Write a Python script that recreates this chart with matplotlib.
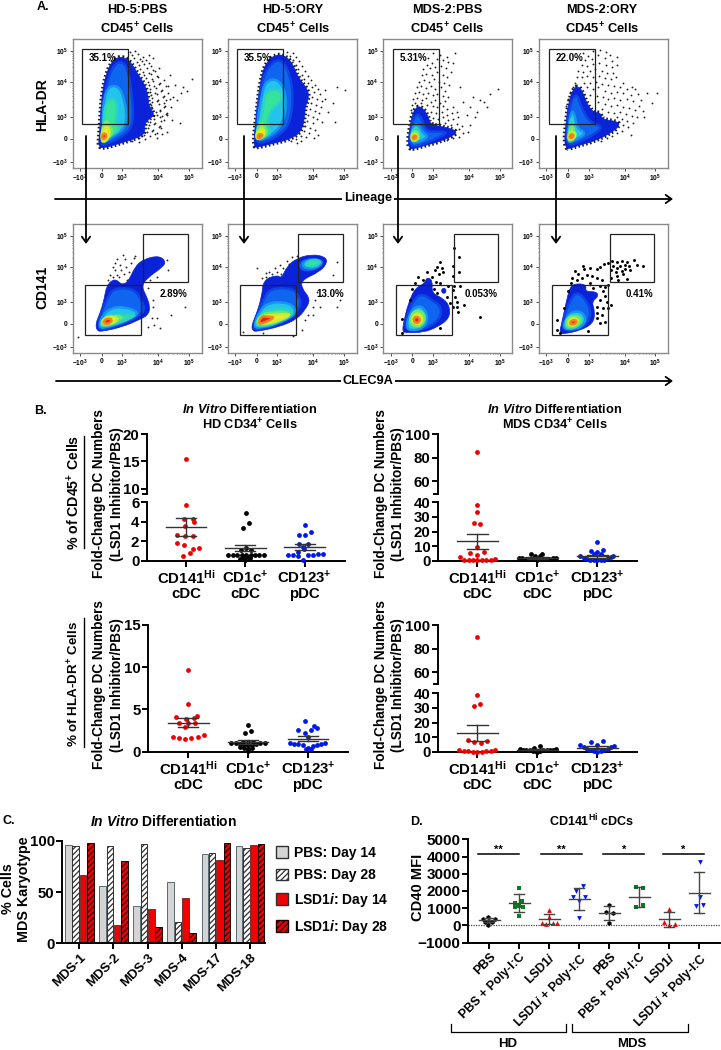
import numpy as np
import matplotlib
matplotlib.use("Agg")
import matplotlib.pyplot as plt
from matplotlib.patches import Rectangle, Patch, PathPatch
from matplotlib.path import Path
from matplotlib.colors import to_rgb

plt.rcParams['font.family'] = ['Liberation Sans', 'DejaVu Sans']
plt.rcParams['font.weight'] = 'bold'
plt.rcParams['mathtext.fontset'] = 'custom'
plt.rcParams['mathtext.rm'] = 'Liberation Sans:bold'
plt.rcParams['mathtext.bf'] = 'Liberation Sans:bold'
plt.rcParams['mathtext.it'] = 'Liberation Sans:italic:bold'
plt.rcParams['mathtext.bfit'] = 'Liberation Sans:italic:bold'
plt.rcParams['hatch.linewidth'] = 0.9

W, H = 721, 1050
fig = plt.figure(figsize=(7.21, 10.5), dpi=100)

# ---------- panel A: outlines of the density plots, channel units per plot
LEVEL_COLORS = ['#0a22d8', '#1065f0', '#22c4ee', '#35e39a', '#a8ee38', '#f2e92c', '#ee1c14']

P1_OUT = [(297,440),(296,425),(300,380),(302,330),(308,270),(318,225),(332,190),(350,172),(375,172),(395,190),(415,225),(435,255),(445,290),(445,315),(465,345),(445,358),(433,375),(435,400),(410,415),(360,430),(310,445)]
P1_LV = [[(305,435),(303,380),(310,300),(325,230),(345,190),(370,185),(385,215),(395,280),(400,340),(395,385),(360,415),(310,435)],
         [(308,425),(308,350),(312,290),(330,255),(360,262),(372,300),(380,340),(375,385),(345,405),(315,425)],
         [(310,418),(310,350),(320,300),(345,295),(352,325),(345,370),(360,390),(335,405),(315,420)],
         [(307,425),(306,385),(318,360),(330,375),(340,395),(328,410),(315,425)],
         [(305,425),(304,395),(318,378),(330,392),(326,410),(315,425)],
         [(306,416),(307,403),(316,400),(320,410),(312,418)]]
P2_OUT = [(763,440),(762,410),(768,360),(775,290),(785,225),(800,185),(825,165),(850,165),(875,185),(895,235),(925,270),(925,300),(915,320),(915,345),(905,395),(870,418),(820,430),(770,443)]
P2_LV = [[(768,430),(768,370),(778,280),(795,215),(825,180),(850,185),(870,225),(880,290),(870,370),(840,405),(800,425)],
         [(772,425),(772,370),(782,300),(795,245),(830,235),(855,270),(860,330),(840,385),(805,410)],
         [(772,418),(772,380),(790,340),(790,290),(815,265),(845,275),(845,305),(810,330),(800,380),(815,395),(795,410)],
         [(771,420),(770,390),(785,365),(798,385),(800,400),(790,412)],
         [(770,420),(768,400),(785,385),(795,395),(790,410)],
         [(773,414),(775,403),(785,402),(787,408),(778,416)]]
P3_OUT = [(148,445),(144,425),(150,380),(158,340),(172,318),(190,325),(205,350),(212,375),(250,380),(290,392),(285,405),(240,425),(200,435),(160,447)]
P3_LV = [[(150,438),(152,385),(165,345),(180,345),(190,370),(200,395),(240,395),(265,398),(220,420),(170,440)],
         [(153,430),(156,385),(168,370),(178,380),(190,400),(205,410),(180,425)],
         [(155,425),(155,395),(170,380),(180,405),(175,420)],
         [(155,422),(155,400),(168,392),(178,408),(170,422)],
         [(155,420),(155,405),(168,400),(175,412),(165,422)],
         [(158,416),(160,407),(168,407),(170,413),(163,418)]]
P4_OUT = [(620,445),(613,425),(618,370),(625,310),(640,265),(655,258),(668,275),(680,310),(700,338),(722,338),(725,358),(775,365),(778,378),(755,398),(700,425),(660,435),(625,447)]
P4_LV = [[(620,435),(622,370),(632,305),(650,280),(660,310),(675,345),(695,370),(730,380),(700,405),(650,430)],
         [(622,430),(626,375),(635,330),(645,345),(650,385),(680,400),(645,420)],
         [(625,425),(628,385),(636,345),(642,390),(650,405),(640,420)],
         [(625,422),(627,395),(637,375),(645,400),(640,418)],
         [(625,420),(628,400),(640,395),(648,405),(638,418)],
         [(628,413),(631,403),(640,403),(640,410),(633,415)]]
P5_OUT = [(290,392),(287,370),(300,340),(312,300),(320,255),(345,235),(365,255),(385,245),(405,200),(430,178),(475,167),(497,183),(490,200),(440,235),(425,260),(440,290),(450,320),(445,345),(420,358),(370,380),(305,395)]
P5_LV = [[(295,385),(300,345),(322,295),(340,265),(400,265),(425,300),(435,330),(415,350),(360,375),(310,390)],
         [(297,380),(305,350),(330,325),(370,320),(415,335),(405,350),(360,370),(310,385)],
         [(300,378),(310,355),(335,345),(385,345),(410,345),(360,368),(320,378)],
         [(303,374),(312,353),(338,348),(370,350),(345,368),(320,376)],
         [(305,370),(315,352),(340,350),(355,357),(335,372)],
         [(310,365),(320,355),(337,358),(330,370),(315,372)]]
P6_OUT = [(757,392),(755,375),(770,340),(785,290),(790,240),(830,225),(845,235),(860,200),(890,175),(935,163),(975,170),(982,188),(960,215),(905,240),(905,265),(932,298),(915,330),(890,358),(840,380),(770,395)]
P6_LV = [[(760,385),(770,345),(790,300),(810,265),(880,265),(895,290),(905,310),(880,350),(830,375),(775,390)],
         [(762,380),(775,340),(800,310),(850,305),(885,320),(885,345),(830,372),(775,385)],
         [(765,375),(780,345),(800,330),(860,325),(885,340),(835,368),(785,380)],
         [(768,372),(782,346),(810,337),(875,338),(850,358),(800,375)],
         [(772,368),(785,347),(820,345),(875,342),(850,357),(800,372)],
         [(775,368),(785,348),(800,350),(825,352),(800,365),(780,372)]]
P6_LOBE = [[(895,185),(940,172),(975,185),(950,210),(905,215)],
           [(905,190),(940,176),(970,186),(948,205),(915,205)],
           [(915,190),(940,178),(965,185),(945,200),(920,198)]]
P7_OUT = [(128,395),(130,370),(145,310),(165,265),(195,250),(200,232),(218,240),(215,280),(250,295),(270,320),(268,355),(235,380),(190,398),(135,398)]
P7_LV = [[(135,390),(140,350),(160,300),(185,280),(215,300),(245,320),(240,360),(190,390)],
         [(140,385),(145,350),(165,320),(190,320),(205,355),(190,385),(155,392)],
         [(148,378),(152,345),(172,328),(195,340),(195,370),(170,385)],
         [(150,370),(155,340),(175,330),(195,345),(190,370),(170,382)],
         [(155,365),(160,345),(178,340),(190,358),(178,375)],
         [(160,362),(165,350),(178,352),(180,365),(168,370)]]
P7_SPOT = [(245,265),(258,265),(258,280),(245,280)]
P8_OUT = [(598,400),(605,370),(620,300),(630,260),(650,250),(680,255),(675,275),(710,275),(715,290),(695,305),(705,335),(700,370),(660,392),(610,402)]
P8_LV = [[(605,395),(612,350),(630,300),(650,275),(680,300),(695,345),(670,385)],
         [(610,390),(615,360),(635,335),(665,335),(680,360),(660,385)],
         [(616,385),(618,358),(638,342),(662,345),(668,365),(645,385)],
         [(620,380),(622,355),(640,348),(660,352),(662,368),(640,382)],
         [(625,375),(628,358),(645,353),(655,365),(640,378)],
         [(630,372),(633,362),(648,360),(650,368),(640,374)]]

P1_SPECK = [(390,156),(404,152),(396,166),(414,162),(430,170),(402,175),(419,178),(438,181),(411,186),(426,183),(446,188),(416,196),(433,193),(453,199),(421,207),(441,203),(458,210),(476,205),(428,215),(446,218),(466,213),(431,226),(452,222),(470,229),(437,235),(456,238),(473,232),(491,240),(443,246),(460,243),(481,249),(447,255),(463,259),(478,252),(499,258),(451,266),(468,263),(485,270),(450,275),(466,279),(483,272),(503,279),(453,286),(471,283),(491,289),(456,295),(473,299),(488,292),(509,298),(455,306),(470,303),(493,309),(453,316),(476,312),(496,319),(456,325),(479,329),(491,322),(469,336),(481,332),(501,339),(471,345),(486,349),(499,342),(461,356),(479,352),(493,359),(449,365),(466,369),(483,362),(446,376),(463,372),(479,379),(443,385),(459,389),(476,382),(441,396),(456,392),(471,399),(431,405),(451,409),(466,402),(416,414),(436,418),(396,423),(416,426),
            (575,238),(560,272),(542,280),(530,300),(510,226),(505,258),(520,290),(500,345),(512,320),(540,370),(497,300),(482,385),(487,402),(470,415),(550,262),(525,255),(500,395),(515,360),(460,175),(448,165)]
P2_SPECK = [(862,156),(878,160),(870,168),(888,172),(880,180),(898,184),(888,195),(906,198),(895,208),(915,212),(905,224),(925,228),(912,238),(934,240),(925,250),(945,254),(935,262),(955,268),(942,276),(960,282),(935,292),(950,298),(965,304),(932,310),(948,316),(962,322),(930,328),(945,334),(958,340),(925,346),(940,352),(952,358),(922,364),(938,370),(916,378),(930,384),(945,390),(912,394),(926,400),(902,408),(918,412),(888,418),(904,422),(872,424),(890,428),
            (1035,270),(1010,262),(1000,310),(975,298),(985,335),(965,365),(1005,365),(975,270),(955,405),(942,415)]
P3_SPECK = [(205,175),(220,160),(240,165),(262,170),(285,160),(280,190),(265,185),(250,180),(232,178),(215,190),(200,195),(190,208),(210,205),(225,200),(242,198),(258,205),(272,215),(185,225),(198,222),(215,225),(232,215),(248,225),(262,232),(178,245),(192,240),(207,245),(222,238),(238,245),(252,250),(268,255),(172,262),(184,258),(198,265),(212,258),(226,268),(242,262),(256,272),(165,280),(178,275),(190,282),(205,278),(218,285),(232,282),(248,288),(265,292),(160,298),(172,295),(186,300),(198,295),(212,305),(225,300),(240,308),(255,302),(155,315),(166,310),(182,308),(200,315),(218,318),(232,322),(248,318),(262,328),(278,320),(152,330),(212,335),(228,340),(245,335),(260,345),(275,340),(290,335),(218,355),(235,358),(250,352),(265,360),(280,358),(295,352),(225,372),(240,372),(255,368),(272,375),(290,372),(305,378),(298,388),(308,398),(296,410),(280,415),(262,420),
            (415,268),(390,282),(372,305),(380,322),(350,335),(330,320),(345,350),(320,345),(310,305),(300,262),(330,375),(360,300),(340,290),(325,395)]
P4_SPECK = [(670,158),(685,168),(700,152),(720,150),(738,155),(750,165),(770,172),(715,165),(695,178),(675,180),(735,175),(755,182),(665,195),(680,198),(700,192),(718,190),(738,195),(755,200),(772,195),(655,212),(670,215),(690,212),(705,208),(725,212),(742,218),(760,218),(650,230),(665,232),(682,228),(700,232),(718,228),(735,235),(752,238),(768,232),(790,248),(815,262),(645,248),(672,248),(690,248),(708,245),(725,252),(745,255),(762,258),(780,262),(800,268),(825,268),(842,300),(640,262),(680,262),(698,268),(715,262),(735,272),(752,278),(770,275),(790,280),(812,285),(835,282),(860,278),(890,280),(630,278),(690,285),(710,288),(728,292),(745,298),(762,295),(780,300),(800,298),(820,302),(838,318),(715,305),(735,312),(752,318),(770,315),(790,320),(808,325),(825,330),(848,332),(725,328),(745,335),(762,338),(780,335),(798,342),(815,348),(830,352),(770,352),(785,358),(802,362),(818,370),(790,375),(805,380),(785,392),(772,398),(755,408),(740,415),(722,422),(812,405),(625,296),(618,318),(852,352),(875,310)]
P5_SPECK = [(330,225),(345,210),(360,195),(375,178),(368,165),(352,178),(338,200),(325,240),(350,225),(362,210),(378,200),(392,190),(402,175),(345,190),(372,222),(388,215),(398,230),(382,240),(358,232),(340,232),(405,168),
            (555,322),(512,345),(470,355),(455,355),(480,385),(235,410),(460,322),(500,180),(505,210),(470,230),(450,240),(445,265),(458,300),(462,375),(445,382)]
P6_SPECK = [(798,230),(808,215),(825,205),(840,195),(860,182),(875,172),(815,222),(832,215),(850,205),(842,222),(798,218),(785,235),(868,192),(890,168),
            (1010,185),(1010,320),(940,345),(925,345),(730,395),(770,205),(1000,225),(1020,300),(960,320),(945,300),(938,320),(950,275),(915,360),(905,390),(880,408),(790,400)]
P7_BIG = [(283,143),(298,172),(280,197),(296,215),(280,228),(240,185),(232,200),(245,205),(250,215),(238,222),(225,210),(200,215),(215,230),(175,232),(190,240),(165,250),(228,245),(240,250),(265,258),(282,258),(300,258),(278,270),(285,290),(290,305),(270,310),(280,322),(292,320),(293,337),(313,316),(360,350),(125,358),(240,385),(125,398),(155,268),(150,300),(222,268),(232,278),(262,290)]
P8_BIG = [(670,197),(672,208),(645,212),(655,222),(690,205),(712,208),(720,200),(733,192),(745,190),(755,183),(770,187),(785,183),(800,185),(823,180),(830,195),(848,197),(758,198),(770,205),(780,198),(795,195),(808,198),(752,210),(768,215),(785,212),(795,208),(810,210),(790,222),(770,228),(800,238),(752,235),(775,240),(635,235),(650,240),(665,235),(680,225),(695,228),(712,235),(725,240),(632,250),(690,250),(720,258),(735,262),(745,255),(728,272),(735,288),(720,300),(742,305),(752,315),(712,320),(728,325),(745,325),(710,340),(725,345),(712,355),(735,365),(720,368),(685,392),(590,360),(590,390),(600,400),(612,325),(625,272),(700,265)]

# gates in the same channel units
TOP_GATE_LEFT, TOP_GATE_TOP, TOP_GATE_W, TOP_GATE_H = 29, 30, 138, 225
LOW_GATE = (38, 181, 168, 151)
UP_GATE = (212, 29, 133, 145)

X_TICK_CH = [22, 87, 149, 257, 349]
Y_TICK_CH = [34, 129, 234, 299, 367]
X_TICK_LABELS = [r'$-10^3$', '0', r'$10^3$', r'$10^4$', r'$10^5$']
Y_TICK_LABELS = [r'$10^5$', r'$10^4$', r'$10^3$', '0', r'$-10^3$']

TOP_PCT = ['35.1%', '35.5%', '5.31%', '22.0%']
LOW_PCT = ['2.89%', '13.0%', '0.053%', '0.41%']
TOP_TITLES = ['HD-5:PBS', 'HD-5:ORY', 'MDS-2:PBS', 'MDS-2:ORY']

# ---------- panel B: swarm offsets and fold change values
B1_RED_X = [0,1,-5,20,24,-2,-27,-2,22,-27,-6,38,20,11,-9]
B1_RED = [15.4,5.7,4.25,4.28,3.94,3.56,2.64,2.53,2.53,1.85,1.61,1.34,1.2,.82,.51]
B1_BLK_X = [2,11,-8,2,-14,16,-51,-38,-24,-11,2,16,29,42,55,-16,-1,14,-8,9]
B1_BLK = [4.86,3.9,3.32,1.3,1.06,1.06,.58,.55,.55,.55,.55,.55,.55,.58,.62,.17,.07,.24,.34,.34]
B1_BLU_X = [2,20,-16,2,-16,10,-6,-3,-50,-35,-20,10,25,40,55,-6,-20]
B1_BLU = [3.7,2.95,2.6,2.6,1.7,1.67,1.44,1.2,.58,.55,.52,.55,.58,.65,.72,.1,.92]
B1_STATS = [(3.45,2.55,4.35),(1.28,.95,1.65),(1.4,1.1,1.7)]

B2_RED_X = [0,0,0,-9,9,0,-21,0,20,-52,-39,-26,-13,0,13,26,39,52]
B2_RED = [84.6,38.4,33.4,25.6,24.9,9.1,5.5,4.1,6.2,2.7,.5,.3,.3,.3,.3,.3,.5,1.1]
B2_BLK_X = [-20,15,7,-8,-55,-45,-35,-25,-15,-5,5,15,25,35,45,55,-1]
B2_BLK = [4.6,4.6,3.4,3.2,1.8,1.6,1.4,1.2,1.0,1.0,1.0,1.0,1.2,1.4,1.6,1.8,.2]
B2_BLU_X = [0,18,-20,0,-11,11,-51,47,-41,-31,-21,-11,0,11,21,31,39]
B2_BLU = [12.6,7.5,6.4,5.7,4.3,4.3,3.2,3.2,1.6,1.1,.7,.4,.2,.4,.7,1.6,2.3]
B2_STATS = [(13.5,8.1,18.6),(1.7,1.2,2.2),(3.0,2.0,4.0)]

B3_RED_X = [0,0,-37,27,-7,17,-27,0,20,-9,-45,-28,-9,9,28,47]
B3_RED = [9.67,5.68,4.1,4.22,3.9,3.95,3.43,3.43,3.43,2.96,1.74,1.66,1.5,1.66,1.74,2.0]
B3_BLK_X = [0,8,-10,-15,0,15,-50,-37,-25,-12,0,12,25,37,50,-25,-12,0,12,0]
B3_BLK = [3.2,2.45,2.2,1.2,1.2,1.2,1.07,1.0,.92,.8,.75,.8,.92,1.0,1.07,.6,.47,.35,.47,.1]
B3_BLU_X = [-10,17,27,-28,8,-10,0,-53,-41,-28,-16,40,52,27,15,0,-5,10]
B3_BLU = [3.67,3.04,2.8,2.53,2.53,2.2,1.74,1.0,.95,.87,.8,.95,1.0,.8,.67,.4,.28,.28]
B3_STATS = [(3.45,2.95,3.95),(1.15,.95,1.4),(1.55,1.25,1.85)]

B4_RED_X = [0,0,9,-9,-27,-9,28,10,-54,-41,-27,-14,0,13,26,39,53]
B4_RED = [89.9,38.9,32.7,31.5,7.8,6.6,7.5,5.7,.9,.45,.25,.1,.1,.1,.25,.45,1.1]
B4_BLK_X = [8,-11,-53,-43,-33,-23,-13,-3,7,17,27,37,47,55,0]
B4_BLK = [4.1,2.3,1.6,1.2,1,.9,.8,.8,.8,.9,1,1.2,1.4,1.6,.1]
B4_BLU_X = [18,-20,0,-51,49,-41,-31,-21,-11,0,11,21,31,39]
B4_BLU = [7.3,6.4,4.8,4.3,3.9,3,2,1.1,.5,.1,.5,1.1,2,3]
B4_STATS = [(12.8,7.1,18.0),(1.3,.9,1.7),(2.8,2.0,3.6)]

DC_COLORS = ['#f00000', 'black', '#0018f0']
DC_LABELS = [r'CD141$^{\mathrm{Hi}}$' + '\ncDC', 'CD1c$^{+}$\ncDC', 'CD123$^{+}$\npDC']

# ---------- panel C
C_PATIENTS = ['MDS-1', 'MDS-2', 'MDS-3', 'MDS-4', 'MDS-17', 'MDS-18']
C_PBS14 = [96, 56, 36, 60, 87, 95]
C_PBS28 = [95, 95, 97, 21, 88, 93]
C_LSD14 = [67, 18, 33, 44, 81, 96]
C_LSD28 = [98, 80, 16, 10, 98, 97]

# ---------- panel D
D_LABELS = ['PBS', 'PBS + Poly-I:C', r'LSD1$\mathit{i}$', r'LSD1$\mathit{i}$ + Poly-I:C'] * 2
D_X = [[-3,-18,17,0,-13,7,-3], [0,8,-12,0,-12,11,0], [0,0,-22,-9,11,23], [10,-9,-20,18,0,0],
       [0,-9,11,0], [-9,10,10,-10], [0,-17,18,0], [3,1,-9,11]]
D_VALS = [[504,349,349,271,213,174,19], [2190,1415,1318,1124,1047,1085,562], [910,465,116,78,155,155],
          [2287,2015,1667,1667,1434,407], [1160,775,700,155], [2248,2170,1163,1085], [930,213,78,19], [3700,1667,1124,1182]]
D_MEAN = [300, 1290, 390, 1540, 720, 1670, 350, 1900]
D_LOW = [180, 760, 100, 900, 300, 1100, -90, 700]
D_HIGH = [420, 1840, 680, 2180, 1140, 2260, 800, 3120]
D_COLORS = ['black', '#0d7a20', '#f00000', '#0018f0'] * 2
D_MARKERS = ['h', 's', '^', 'v'] * 2
D_SIG_X = [(-.37, .99), (1.72, 3.08), (3.8, 5.16), (5.78, 7.14)]
D_SIG_LABEL = ['**', '**', '*', '*']
D_SIG_Y = 4150


def ax_px(l, t, r, b):
    return fig.add_axes([l / W, 1 - b / H, (r - l) / W, (b - t) / H])


def txt(x, y, s, size=8, **kw):
    kw.setdefault('ha', 'center')
    kw.setdefault('va', 'center')
    fig.text(x / W, 1 - y / H, s, fontsize=size, fontweight='bold', **kw)


def mix(a, b):
    a, b = to_rgb(a), to_rgb(b)
    return tuple((p + q) / 2 for p, q in zip(a, b))


def round_path(pts):
    # closed quadratic path, the read points act as control points
    pts = np.array(pts, dtype=float)
    mids = (pts + np.roll(pts, -1, axis=0)) / 2
    verts = [mids[-1]]
    codes = [Path.MOVETO]
    for p, m in zip(pts, mids):
        verts += [p, m]
        codes += [Path.CURVE3, Path.CURVE3]
    return Path(verts, codes)


def blob(ax, outer, levels, start=0, fringe=False):
    colors = LEVEL_COLORS[start:]
    if fringe:
        # dotted edge gives the dense fuzz of events at the rim of the density
        ax.add_patch(PathPatch(round_path(outer), fc='none', ec='#1a1a1a', lw=3.2, ls=(0, (0.35, 0.55)), zorder=2.5))
    ax.add_patch(PathPatch(round_path(outer), fc=colors[0], ec=colors[0], lw=0.5, zorder=3))
    for i, poly in enumerate(levels):
        c = colors[i + 1]
        ax.add_patch(PathPatch(round_path(poly), fc=c, ec=mix(c, colors[i]), lw=1.8, zorder=3.1 + i * 0.1))


def flow_panel(l, t, x0, y0, outer, levels, specks, big, top, pct, pct_xy):
    ax = ax_px(l, t, l + 129, t + 129)
    ax.set_xlim(x0, x0 + 387)
    ax.set_ylim(y0 + 387, y0)
    for s in ax.spines.values():
        s.set_color('#8a8a8a')
        s.set_linewidth(1.0)
    if specks:
        sx, sy = zip(*specks)
        ax.scatter(sx, sy, s=1.8, c='#222222', linewidths=0, zorder=2)
    if big:
        bx, by = zip(*big)
        ax.scatter(bx, by, s=4.5, c='black', linewidths=0, zorder=6)
    blob(ax, outer, levels, fringe=top)
    ax.set_xticks([x0 + c for c in X_TICK_CH])
    ax.set_xticklabels(X_TICK_LABELS, fontsize=4.8)
    ax.set_yticks([y0 + c for c in Y_TICK_CH])
    ax.set_yticklabels(Y_TICK_LABELS, fontsize=4.8)
    ax.tick_params(length=2, width=0.6, pad=1.5, color='#333333')
    minors_x, minors_y = [], []
    for a, b in zip(X_TICK_CH[2:], X_TICK_CH[3:]):
        minors_x += [x0 + a + (b - a) * np.log10(k) for k in range(2, 10)]
    for a, b in zip(Y_TICK_CH[:2], Y_TICK_CH[1:3]):
        minors_y += [y0 + b - (b - a) * np.log10(k) for k in range(2, 10)]
    ax.set_xticks(minors_x, minor=True)
    ax.set_yticks(minors_y, minor=True)
    ax.tick_params(which='minor', length=1, width=0.4, color='#333333')
    gate_kw = dict(fc='none', ec='#222222', lw=0.9, zorder=7)
    if top:
        ax.add_patch(Rectangle((x0 + TOP_GATE_LEFT, y0 + TOP_GATE_TOP), TOP_GATE_W, TOP_GATE_H, **gate_kw))
    else:
        a, b, w, h = LOW_GATE
        ax.add_patch(Rectangle((x0 + a, y0 + b), w, h, **gate_kw))
        a, b, w, h = UP_GATE
        ax.add_patch(Rectangle((x0 + a, y0 + b), w, h, **gate_kw))
    ax.text(x0 + pct_xy[0], y0 + pct_xy[1], pct, fontsize=7, fontweight='bold', ha='center', va='center', zorder=8)
    return ax


XL = [72.7, 227.7, 383.3, 539]
X0 = [218, 683, 70, 537]
TOP_DATA = [(P1_OUT, P1_LV, P1_SPECK), (P2_OUT, P2_LV, P2_SPECK),
            (P3_OUT, P3_LV, P3_SPECK), (P4_OUT, P4_LV, P4_SPECK)]
LOW_DATA = [(P5_OUT, P5_LV, P5_SPECK, None), (P6_OUT, P6_LV, P6_SPECK, None),
            (P7_OUT, P7_LV, None, P7_BIG), (P8_OUT, P8_LV, None, P8_BIG)]
LOW_PCT_XY = [(303, 209), (306, 209), (294, 209), (300, 209)]

for i in range(4):
    o, lv, sp = TOP_DATA[i]
    flow_panel(XL[i], 39.3, X0[i], 118, o, lv, sp, None, True, TOP_PCT[i], (90, 56))
    o, lv, sp, bg = LOW_DATA[i]
    ax = flow_panel(XL[i], 224.3, X0[i], 73, o, lv, sp, bg, False, LOW_PCT[i], LOW_PCT_XY[i])
    if i == 1:
        blob(ax, P6_LOBE[0], P6_LOBE[1:], start=1)
    if i == 2:
        blob(ax, P7_SPOT, [])
    cx = [137, 293, 447, 602][i]
    txt(cx, 10, TOP_TITLES[i], 9.2)
    txt(cx, 29, r'CD45$^{+}$ Cells', 9.3)

txt(43, 7, 'A.', 9)
txt(42, 105, 'HLA-DR', 10, rotation=90)
txt(42, 287, 'CD141', 10, rotation=90)

# overlay for arrows and brackets, in figure pixels
ov = fig.add_axes([0, 0, 1, 1], zorder=20)
ov.set_xlim(0, W)
ov.set_ylim(H, 0)
ov.axis('off')
ov.patch.set_alpha(0)
arr = dict(arrowstyle='->,head_width=0.3,head_length=0.42', lw=1.3, color='black', shrinkA=0, shrinkB=0)
ov.annotate('', xy=(673, 199), xytext=(55, 199), arrowprops=arr)
ov.annotate('', xy=(673, 381), xytext=(56, 381), arrowprops=arr)
for vx in [86, 244, 398, 556]:
    ov.annotate('', xy=(vx, 244), xytext=(vx, 136), arrowprops=arr)
ov.text(368, 198, 'Lineage', fontsize=9.2, fontweight='bold', ha='center', va='center',
        bbox=dict(fc='white', ec='none', pad=1.5), zorder=5)
ov.text(368, 381, 'CLEC9A', fontsize=9.2, fontweight='bold', ha='center', va='center',
        bbox=dict(fc='white', ec='none', pad=1.5), zorder=5)


def clean(ax):
    ax.spines['top'].set_visible(False)
    ax.spines['right'].set_visible(False)
    ax.spines['left'].set_linewidth(1.4)
    ax.spines['bottom'].set_linewidth(1.4)
    ax.patch.set_alpha(0)


def stat_lines(ax, mean, lo, hi, x, half=0.34, cap=0.17, color='#333333', lw=1.0):
    ax.plot([x - half, x + half], [mean, mean], color=color, lw=lw, zorder=4)
    ax.plot([x, x], [lo, hi], color=color, lw=lw, zorder=4)
    ax.plot([x - cap, x + cap], [lo, lo], color=color, lw=lw, zorder=4)
    ax.plot([x - cap, x + cap], [hi, hi], color=color, lw=lw, zorder=4)


def dc_panel(box, groups, stats, lower, upper=None):
    # box: left, right, y of zero, y of lower top, y of upper bottom, y of upper top, xlim
    l, r, y0, y1, y2, y3, xlim = box
    low = ax_px(l, y1, r, y0)
    clean(low)
    low.set_xlim(*xlim)
    low.set_ylim(lower[0], lower[1])
    low.set_yticks(lower[2])
    low.set_xticks(range(3))
    low.set_xticklabels(DC_LABELS, fontsize=10.8, linespacing=1.05)
    low.tick_params(axis='y', labelsize=10.8, width=1.4, length=4, pad=1.5)
    low.tick_params(axis='x', width=1.4, length=4, pad=2)
    up = None
    if upper:
        up = ax_px(l, y3, r, y2)
        clean(up)
        up.spines['bottom'].set_visible(False)
        up.set_xlim(*xlim)
        up.set_ylim(upper[0], upper[1])
        up.set_yticks(upper[2])
        up.set_xticks([])
        up.tick_params(axis='y', labelsize=10.8, width=1.4, length=4, pad=1.5)
        up.plot([-0.02, 0], [0, 0], transform=up.transAxes, color='black', lw=1.4, clip_on=False)
    for i, (xs, vs) in enumerate(groups):
        xs = i + np.array(xs) / 178.0
        vs = np.array(vs, dtype=float)
        split = lower[1]
        low.scatter(xs[vs <= split], vs[vs <= split], s=12, c=DC_COLORS[i], linewidths=0, zorder=3, clip_on=False)
        if up is not None:
            up.scatter(xs[vs > split], vs[vs > split], s=12, c=DC_COLORS[i], linewidths=0, zorder=3)
        stat_lines(low, stats[i][0], stats[i][1], stats[i][2], i)
    return low


dc_panel((147, 345, 560.7, 502.3, 494, 434.3, (-0.658, 2.68)),
         [(B1_RED_X, B1_RED), (B1_BLK_X, B1_BLK), (B1_BLU_X, B1_BLU)], B1_STATS,
         (0, 6, [0, 2, 4, 6]), (9, 20, [10, 15, 20]))
dc_panel((438, 637, 560.7, 502.3, 494, 434.3, (-0.657, 2.66)),
         [(B2_RED_X, B2_RED), (B2_BLK_X, B2_BLK), (B2_BLU_X, B2_BLU)], B2_STATS,
         (0, 40, [0, 10, 20, 30, 40]), (49.4, 100, [60, 80, 100]))
dc_panel((148, 348, 751.7, 625, 0, 0, (-0.672, 2.67)),
         [(B3_RED_X, B3_RED), (B3_BLK_X, B3_BLK), (B3_BLU_X, B3_BLU)], B3_STATS,
         (0, 15, [0, 5, 10, 15]))
dc_panel((438, 637, 751.7, 693.3, 684, 625.3, (-0.657, 2.66)),
         [(B4_RED_X, B4_RED), (B4_BLK_X, B4_BLK), (B4_BLU_X, B4_BLU)], B4_STATS,
         (0, 40, [0, 10, 20, 30, 40]), (50, 100, [60, 80, 100]))

txt(40, 411, 'B.', 9)
txt(250, 410, r'$\mathbfit{In\ Vitro}$ Differentiation', 9.2)
txt(250, 425, r'HD CD34$^{+}$ Cells', 9.2)
txt(555, 410, r'$\mathbfit{In\ Vitro}$ Differentiation', 9.2)
txt(555, 425, r'MDS CD34$^{+}$ Cells', 9.2)

txt(74, 492, r'% of CD45$^{+}$ Cells', 10.2, rotation=90)
txt(74, 684, r'% of HLA-DR$^{+}$ Cells', 9.6, rotation=90)
ov.plot([84, 84], [436, 548], color='black', lw=1.0)
ov.plot([84, 84], [618, 747], color='black', lw=1.0)
for fy, fx1, fx2 in [(494, 99, 117), (685, 99, 117), (494, 381, 398), (685, 381, 398)]:
    txt(fx1, fy, 'Fold-Change DC Numbers', 9.8, rotation=90)
    txt(fx2, fy, '(LSD1 Inhibitor/PBS)', 9.8, rotation=90)

# panel C bars
axc = ax_px(62.3, 840.7, 265, 943.3)
clean(axc)
xc = np.arange(len(C_PATIENTS))
step, bw = 0.215, 0.19
axc.bar(xc - 1.5 * step, C_PBS14, bw, color='#d4d4d4', edgecolor='#5a6a70', lw=0.7)
axc.bar(xc - 0.5 * step, C_PBS28, bw, color='white', edgecolor='#303030', lw=0.7, hatch='//////')
axc.bar(xc + 0.5 * step, C_LSD14, bw, color='#f00000', edgecolor='#7a3030', lw=0.7)
axc.bar(xc + 1.5 * step, C_LSD28, bw, color='#f00000', edgecolor='#200000', lw=0.7, hatch='//////')
axc.set_xlim(-0.5, 5.44)
axc.set_ylim(0, 100)
axc.set_yticks([0, 50, 100])
axc.set_xticks(xc)
axc.set_xticklabels(C_PATIENTS, fontsize=9.5, rotation=45, ha='right', rotation_mode='anchor')
axc.tick_params(axis='y', labelsize=10.8, width=1.4, length=4, pad=1.5)
axc.tick_params(axis='x', width=1.4, length=4, pad=2)
legend_handles = [Patch(fc='#d4d4d4', ec='#303030', lw=1.0, label='PBS: Day 14'),
                  Patch(fc='white', ec='#303030', lw=1.0, hatch='//////', label='PBS: Day 28'),
                  Patch(fc='#f00000', ec='#303030', lw=1.0, label=r'LSD1$\mathit{i}$: Day 14'),
                  Patch(fc='#f00000', ec='#200000', lw=1.0, hatch='//////', label=r'LSD1$\mathit{i}$: Day 28')]
fig.legend(handles=legend_handles, loc='upper left', bbox_to_anchor=(266 / W, 1 - 836 / H), frameon=False,
           fontsize=10, handlelength=0.85, handleheight=0.9, handletextpad=0.45, labelspacing=0.62, borderpad=0.2)
txt(164, 821, r'$\mathbfit{In\ Vitro}$ Differentiation', 10)
txt(9, 821, 'C.', 9)
txt(8, 889, '% Cells', 10.3, rotation=90)
txt(24, 889, 'MDS Karyotype', 10.3, rotation=90)

# panel D
axd = ax_px(468.3, 839.3, 720, 942.7)
clean(axd)
axd.set_xlim(-0.7, 7.69)
axd.set_ylim(-1000, 5000)
axd.set_yticks(range(-1000, 5001, 1000))
axd.set_xticks(range(8))
axd.set_xticklabels(D_LABELS, fontsize=8.9, rotation=45, ha='right', rotation_mode='anchor')
axd.tick_params(axis='y', labelsize=11, width=1.4, length=4, pad=1.5)
axd.tick_params(axis='x', width=1.4, length=4, pad=2)
axd.axhline(0, color='#444444', lw=0.9, ls=(0, (1, 1)), zorder=1)
for i in range(8):
    xd = i + np.array(D_X[i]) / 90.0
    axd.scatter(xd, D_VALS[i], s=12, c=D_COLORS[i], marker=D_MARKERS[i], linewidths=0, zorder=3)
    stat_lines(axd, D_MEAN[i], D_LOW[i], D_HIGH[i], i, half=0.34, cap=0.17, color='#444444', lw=1.0)
for (a, b), lab in zip(D_SIG_X, D_SIG_LABEL):
    axd.plot([a, b], [D_SIG_Y, D_SIG_Y], color='black', lw=1.1)
    axd.text((a + b) / 2, D_SIG_Y + 220, lab, fontsize=8, fontweight='bold', ha='center', va='center')
txt(416, 822, 'D.', 9)
txt(592, 821, r'CD141$^{\mathrm{Hi}}$ cDCs', 9)
txt(418, 887, 'CD40 MFI', 10.5, rotation=90)
for a, b in [(450.7, 566), (572, 688)]:
    ov.plot([a, a, b, b], [1024, 1032, 1032, 1024], color='black', lw=0.9)
txt(508, 1044, 'HD', 9.5)
txt(632, 1044, 'MDS', 9.5)

fig.savefig('out.png', dpi=100)
